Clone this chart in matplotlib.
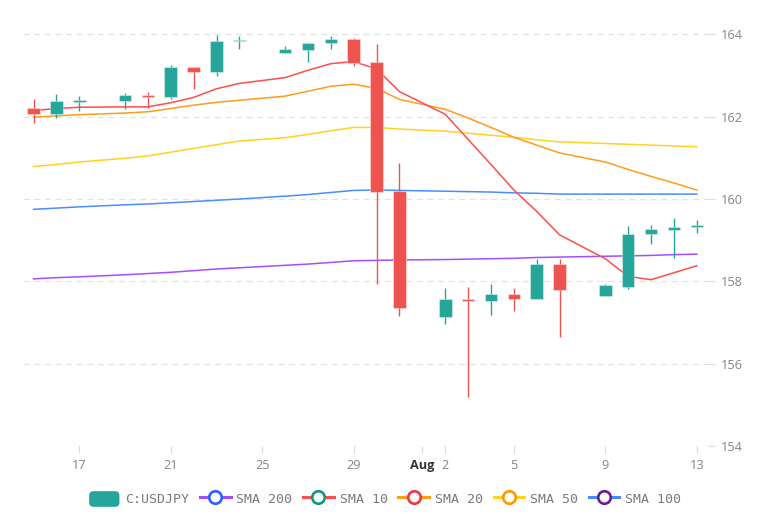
import datetime as dt
import matplotlib
matplotlib.use("Agg")
import matplotlib.pyplot as plt
import matplotlib.dates as mdates
from matplotlib.lines import Line2D
from matplotlib.patches import FancyBboxPatch, Patch
from matplotlib.legend_handler import HandlerBase

# ---------------- data ----------------
dates = ["2024-07-15", "2024-07-16", "2024-07-17", "2024-07-19", "2024-07-20", "2024-07-21",
         "2024-07-22", "2024-07-23", "2024-07-24", "2024-07-26", "2024-07-27", "2024-07-28",
         "2024-07-29", "2024-07-30", "2024-07-31", "2024-08-02", "2024-08-03", "2024-08-04",
         "2024-08-05", "2024-08-06", "2024-08-07", "2024-08-09", "2024-08-10", "2024-08-11",
         "2024-08-12", "2024-08-13"]
opens  = [162.20, 162.06, 162.37, 162.38, 162.53, 162.49, 163.20, 163.08, 163.84, 163.56, 163.61, 163.78,
          163.89, 163.32, 160.20, 157.13, 157.58, 157.52, 157.69, 157.58, 158.41, 157.64, 157.87, 159.15,
          159.24, 159.31]
highs  = [162.42, 162.55, 162.51, 162.58, 162.60, 163.25, 163.21, 163.99, 163.95, 163.72, 163.80, 163.96,
          163.91, 163.76, 160.88, 157.85, 157.86, 157.93, 157.85, 158.55, 158.55, 157.93, 159.35, 159.37,
          159.53, 159.49]
lows   = [161.85, 161.98, 162.15, 162.18, 162.20, 162.44, 162.67, 162.99, 163.64, 163.56, 163.34, 163.65,
          163.23, 157.94, 157.16, 156.97, 155.19, 157.19, 157.27, 157.58, 156.65, 157.64, 157.82, 158.91,
          158.56, 159.17]
closes = [162.06, 162.39, 162.40, 162.53, 162.47, 163.21, 163.08, 163.84, 163.87, 163.64, 163.79, 163.89,
          163.30, 160.17, 157.35, 157.57, 157.53, 157.69, 157.58, 158.42, 157.78, 157.91, 159.15, 159.27,
          159.33, 159.36]

sma10  = [162.15, 162.20, 162.23, 162.24, 162.24, 162.34, 162.47, 162.68, 162.81, 162.95, 163.13, 163.29,
          163.34, 163.16, 162.61, 162.06, 161.45, 160.84, 160.22, 159.70, 159.13, 158.55, 158.12, 158.04,
          158.21, 158.38]
sma20  = [161.99, 162.02, 162.05, 162.09, 162.12, 162.20, 162.28, 162.35, 162.40, 162.50, 162.62, 162.74,
          162.79, 162.69, 162.42, 162.18, 161.97, 161.74, 161.50, 161.31, 161.12, 160.90, 160.72, 160.55,
          160.39, 160.22]
sma50  = [160.79, 160.84, 160.90, 160.99, 161.05, 161.14, 161.23, 161.32, 161.41, 161.49, 161.57, 161.66,
          161.74, 161.74, 161.70, 161.65, 161.60, 161.55, 161.50, 161.44, 161.39, 161.35, 161.33, 161.31,
          161.29, 161.27]
sma100 = [159.75, 159.78, 159.81, 159.86, 159.88, 159.91, 159.94, 159.97, 160.00, 160.07, 160.11, 160.16,
          160.21, 160.22, 160.21, 160.19, 160.18, 160.17, 160.15, 160.14, 160.12, 160.12, 160.12, 160.12,
          160.12, 160.12]
sma200 = [158.06, 158.09, 158.11, 158.16, 158.19, 158.22, 158.26, 158.30, 158.33, 158.39, 158.42, 158.46,
          158.50, 158.51, 158.52, 158.53, 158.54, 158.55, 158.56, 158.58, 158.59, 158.61, 158.62, 158.63,
          158.65, 158.66]

xtick_dates = ["2024-07-17", "2024-07-21", "2024-07-25", "2024-07-29", "2024-08-01",
               "2024-08-02", "2024-08-05", "2024-08-09", "2024-08-13"]
xtick_labels = ["17", "21", "25", "29", "Aug", "2", "5", "9", "13"]
ytick_values = [154, 156, 158, 160, 162, 164]

# ---------------- style ----------------
UP = "#26a69a"
DOWN = "#ef5350"
TICK_FONT = "Open Sans"
LEG_FONT = "DejaVu Sans Mono"

def d2n(s):
    return mdates.date2num(dt.datetime.strptime(s, "%Y-%m-%d"))

x = [d2n(s) for s in dates]

fig = plt.figure(figsize=(7.7, 5.14), dpi=100)
fig.patch.set_facecolor("white")
ax = fig.add_axes([23 / 770, 68 / 514, (708 - 23) / 770, (446 - 20) / 514])

# grid
for v in ytick_values:
    ax.axhline(v, color="#e3e3e3", lw=0.9, ls=(0, (5, 3.5)), zorder=0)

# candles
body_w = 0.55
for xi, o, h, l, c in zip(x, opens, highs, lows, closes):
    col = UP if c >= o else DOWN
    ax.vlines(xi, l, h, color=col, lw=1.0, zorder=3)
    bot = min(o, c)
    hgt = max(abs(c - o), 0.035)
    if abs(c - o) < 0.035:
        bot = (o + c) / 2 - 0.0175
    ax.bar(xi, hgt, bottom=bot, width=body_w, color=col,
           edgecolor=(1, 1, 1, 0.35), linewidth=0.8, zorder=4)

# SMA lines
ax.plot(x, sma200, color="#a44dff", lw=1.1, zorder=2)
ax.plot(x, sma100, color="#4a8cff", lw=1.1, zorder=2)
ax.plot(x, sma50, color="#ffd21f", lw=1.1, zorder=2)
ax.plot(x, sma20, color="#ff9c1a", lw=1.1, zorder=2)
ax.plot(x, sma10, color="#ff4d4d", lw=1.1, zorder=2)

# axes limits
x17 = d2n("2024-07-17")
ax.set_xlim(x17 - 2.462, x17 + 27.49)
ax.set_ylim(154, 164.35)

for s in ax.spines.values():
    s.set_visible(False)

ax.yaxis.tick_right()
ax.set_yticks(ytick_values)
ax.set_yticklabels([str(v) for v in ytick_values], fontfamily=TICK_FONT, fontsize=9.2, color="#858585")
ax.tick_params(axis="y", length=5, width=0.8, color="#d9d9d9", pad=4)

ax.set_xticks([d2n(s) for s in xtick_dates])
ax.set_xticklabels(xtick_labels, fontfamily=TICK_FONT, fontsize=9.2, color="#858585")
ax.tick_params(axis="x", length=5, width=0.8, color="#d9d9d9", pad=4.5)
for lab in ax.get_xticklabels():
    if lab.get_text() == "Aug":
        lab.set_fontweight("bold")
        lab.set_color("#333333")

# legend
class HandlerRound(HandlerBase):
    def create_artists(self, legend, orig_handle, xdescent, ydescent, width, height, fontsize, trans):
        p = FancyBboxPatch((-xdescent, -ydescent), width, height,
                           boxstyle="round,pad=0,rounding_size=3.2",
                           facecolor=orig_handle.get_facecolor(), edgecolor="none",
                           transform=trans)
        return [p]

def leg_line(lc, cc):
    return Line2D([0], [0], color=lc, lw=2.2, marker="o", markersize=9,
                  markerfacecolor="white", markeredgecolor=cc, markeredgewidth=1.9)

handles = [
    Patch(facecolor=UP),
    leg_line("#a44dff", "#2962ff"),
    leg_line("#ff4d4d", "#089981"),
    leg_line("#ff9c1a", "#f23645"),
    leg_line("#ffd21f", "#ff9800"),
    leg_line("#4a8cff", "#6a1b9a"),
]
labels = ["C:USDJPY", "SMA 200", "SMA 10", "SMA 20", "SMA 50", "SMA 100"]
leg = fig.legend(handles, labels, loc="center", bbox_to_anchor=(0.5, 1 - 499 / 514),
                 ncol=6, frameon=False, handlelength=2.3, handleheight=1.45,
                 handletextpad=0.45, columnspacing=0.82, borderaxespad=0, borderpad=0,
                 numpoints=1, prop={"family": LEG_FONT, "size": 9.5},
                 handler_map={Patch: HandlerRound()})
for t in leg.get_texts():
    t.set_color("#7a7a7a")

fig.savefig("out.png", dpi=100)
